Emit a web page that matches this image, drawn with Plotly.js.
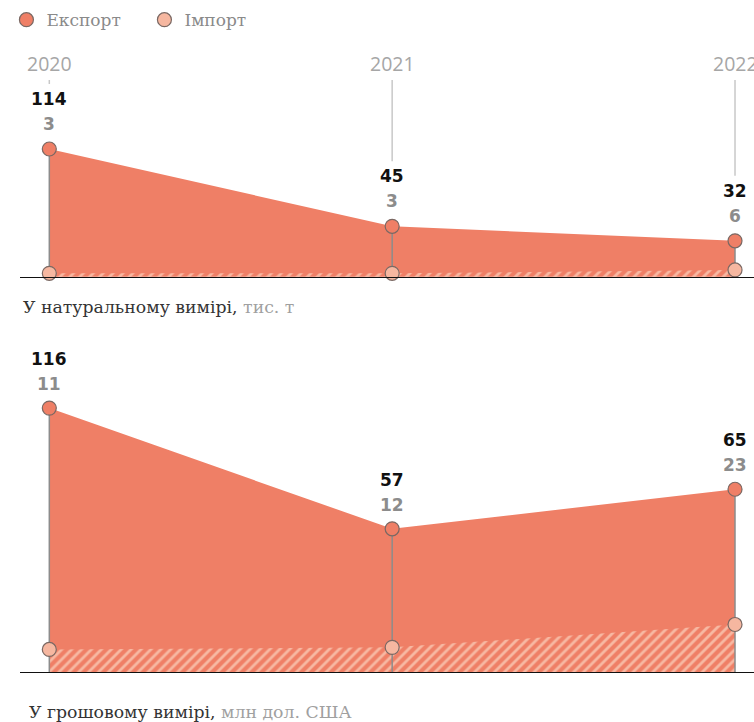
<!DOCTYPE html>
<html>
<head>
<meta charset="utf-8">
<script src="https://cdn.plot.ly/plotly-3.0.1.min.js"></script>
<style>html,body{margin:0;padding:0;background:#fff}#chart{width:754px;height:722px}</style>
</head>
<body>
<div id="chart"></div>
<script>
// ---- data ----
var years = [2020, 2021, 2022];
var yearLabels = ['2020', '2021', '2022'];
var exportTonnes = [114, 45, 32];
var importTonnes = [3, 3, 6];
var exportUsd = [116, 57, 65];
var importUsd = [11, 12, 23];
var seriesNames = ['Експорт', 'Імпорт'];
var subtitleTop = ['У натуральному вимірі,', 'тис. т'];
var subtitleBottom = ['У грошовому вимірі,', 'млн дол. США'];

// ---- styles ----
var coral = '#EF7F66';
var light = '#F6B7A0';
var stripe = '#F7B9A3';
var outline = '#7a6863';
var stemGray = '#8c8c8c';

// bottom chart is stacked: export sits on top of import
var totalUsd = exportUsd.map(function (v, i) { return v + importUsd[i]; });

function areaTrace(y, xa, ya, pattern) {
  var t = {x: years, y: y, xaxis: xa, yaxis: ya, mode: 'none', fill: 'tozeroy',
           fillcolor: coral, showlegend: false, hoverinfo: 'skip'};
  if (pattern) {
    t.fillpattern = {shape: '/', bgcolor: coral, fgcolor: stripe, size: 7, solidity: 0.4};
  }
  return t;
}
function markerTrace(y, xa, ya, color, name, legend, stem) {
  var t = {x: years, y: y, xaxis: xa, yaxis: ya, mode: 'markers', name: name,
           showlegend: legend, legendgroup: name, cliponaxis: false,
           marker: {size: 14, color: color, line: {color: outline, width: 1.2}}};
  if (stem) {
    t.error_y = {type: 'data', symmetric: false, array: y.map(function () { return 0; }),
                 arrayminus: y, color: stemGray, thickness: 1.5, width: 0};
  }
  return t;
}

var data = [
  areaTrace(exportTonnes, 'x', 'y', false),
  areaTrace(importTonnes, 'x', 'y', true),
  markerTrace(exportTonnes, 'x', 'y', coral, seriesNames[0], true, true),
  markerTrace(importTonnes, 'x', 'y', light, seriesNames[1], true, false),
  areaTrace(totalUsd, 'x2', 'y2', false),
  areaTrace(importUsd, 'x2', 'y2', true),
  markerTrace(totalUsd, 'x2', 'y2', coral, seriesNames[0], false, true),
  markerTrace(importUsd, 'x2', 'y2', light, seriesNames[1], false, false)
];

var annotations = [];
var labelFont = {family: 'DejaVu Sans', size: 17, weight: 'bold'};
years.forEach(function (yr, i) {
  // year header with thin guide down toward the labels
  annotations.push({x: yr, y: exportTonnes[i], xref: 'x', yref: 'y', axref: 'pixel', ax: 0,
    ayref: 'y', ay: 190, text: yearLabels[i], showarrow: true, arrowhead: 0, arrowwidth: 1.5,
    arrowcolor: '#c8c8c8', standoff: 65, borderpad: 2,
    font: {family: 'Open Sans', size: 19.5, color: '#a6a6a6'}});
  annotations.push({x: yr, y: exportTonnes[i], xref: 'x', yref: 'y', yshift: 50, showarrow: false,
    text: String(exportTonnes[i]), font: Object.assign({color: '#111'}, labelFont)});
  annotations.push({x: yr, y: exportTonnes[i], xref: 'x', yref: 'y', yshift: 25, showarrow: false,
    text: String(importTonnes[i]), font: Object.assign({color: '#8c8c8c'}, labelFont)});
  annotations.push({x: yr, y: totalUsd[i], xref: 'x2', yref: 'y2', yshift: 49, showarrow: false,
    text: String(exportUsd[i]), font: Object.assign({color: '#111'}, labelFont)});
  annotations.push({x: yr, y: totalUsd[i], xref: 'x2', yref: 'y2', yshift: 24, showarrow: false,
    text: String(importUsd[i]), font: Object.assign({color: '#8c8c8c'}, labelFont)});
});
annotations.push({xref: 'paper', yref: 'paper', x: 0.0013, y: 0.5752, xanchor: 'left', yanchor: 'middle',
  showarrow: false, text: subtitleTop[0] + ' <span style="color:#a0a0a0">' + subtitleTop[1] + '</span>',
  font: {family: 'DejaVu Serif', size: 17.3, color: '#333'}});
annotations.push({xref: 'paper', yref: 'paper', x: 0.0095, y: 0.0143, xanchor: 'left', yanchor: 'middle',
  showarrow: false, text: subtitleBottom[0] + ' <span style="color:#a0a0a0">' + subtitleBottom[1] + '</span>',
  font: {family: 'DejaVu Serif', size: 17.3, color: '#333'}});

var xBase = {range: [2019.9145, 2022.0554], showgrid: false, zeroline: false, showticklabels: false,
             ticks: '', showline: true, linecolor: '#111', linewidth: 1, fixedrange: true};
var yBase = {showgrid: false, zeroline: false, showticklabels: false, ticks: '', showline: false, fixedrange: true};

var layout = {
  width: 754, height: 722,
  margin: {l: 20, r: 0, t: 0, b: 0},
  paper_bgcolor: '#fff', plot_bgcolor: 'rgba(0,0,0,0)',
  showlegend: true,
  legend: {orientation: 'h', x: -0.0185, xanchor: 'left', y: 0.997, yanchor: 'top',
           font: {family: 'DejaVu Serif', size: 17, color: '#8a8a8a'}, bgcolor: 'rgba(0,0,0,0)',
           entrywidth: 93, entrywidthmode: 'pixels', itemclick: false, itemdoubleclick: false},
  xaxis: Object.assign({anchor: 'y'}, xBase),
  xaxis2: Object.assign({anchor: 'y2'}, xBase),
  yaxis: Object.assign({domain: [0.6168, 1], range: [0, 247.05], anchor: 'x'}, yBase),
  yaxis2: Object.assign({domain: [0.0688, 0.55], range: [0, 167.0], anchor: 'x2'}, yBase),
  annotations: annotations
};

Plotly.newPlot('chart', data, layout, {displayModeBar: false, staticPlot: true});
</script>
</body>
</html>
